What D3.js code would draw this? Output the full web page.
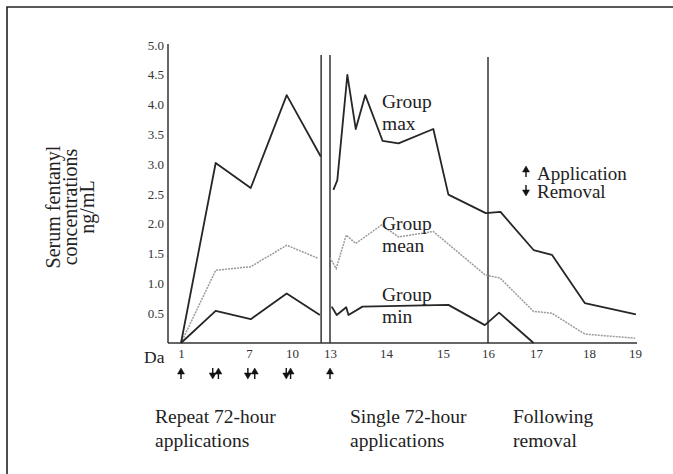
<!DOCTYPE html>
<html>
<head>
<meta charset="utf-8">
<title>Serum fentanyl concentrations</title>
<script src="https://cdn.jsdelivr.net/npm/d3@7"></script>
<style type="text/css">
body { margin: 0; background: #fff; }
svg { display: block; font-family: "Liberation Serif", "Times New Roman", serif; }
.line { fill: none; stroke: #262626; stroke-width: 1.8px; stroke-linejoin: round; }
.mean { fill: none; stroke: #9a9a9a; stroke-width: 1.5px; stroke-dasharray: 2,1; }
.rule { stroke: #333; stroke-width: 1.5px; }
.axis text { font-size: 13px; fill: #333; }
.big { font-size: 19.5px; fill: #222; }
</style>
</head>
<body>
<div id="chart"></div>
<script type="text/javascript">
// day ticks on the (uneven) time axis
var dayTicks = [1, 7, 10, 13, 14, 15, 16, 17, 18, 19];
var yTicks = [0.5, 1.0, 1.5, 2.0, 2.5, 3.0, 3.5, 4.0, 4.5, 5.0];

// series, null = break between repeat and single application
var maxDays   = [1, 4.06, 7.12, 9.63, 12.27, null, 13.06, 13.13, 13.31, 13.46, 13.63, 13.94, 14.22, 14.83, 15.12, 15.95, 16.26, 16.95, 17.3, 17.92, 19.02];
var maxValues = [0, 3.02, 2.6, 4.16, 3.13, null, 2.57, 2.73, 4.5, 3.59, 4.16, 3.39, 3.35, 3.59, 2.49, 2.18, 2.2, 1.56, 1.48, 0.67, 0.48];

var meanDays   = [1, 4.06, 7.12, 9.63, 12.08, null, 13.0, 13.11, 13.29, 13.46, 13.92, 14.22, 14.83, 15.94, 16.25, 16.95, 17.3, 17.92, 19.0];
var meanValues = [0, 1.22, 1.28, 1.64, 1.42, null, 1.43, 1.25, 1.81, 1.67, 1.98, 1.78, 1.87, 1.14, 1.09, 0.53, 0.5, 0.15, 0.08];

var minDays   = [1, 4.06, 7.12, 9.63, 12.2, null, 13.03, 13.12, 13.29, 13.33, 13.58, 15.12, 15.93, 16.23, 16.95];
var minValues = [0, 0.54, 0.4, 0.83, 0.47, null, 0.61, 0.47, 0.6, 0.47, 0.61, 0.64, 0.3, 0.51, 0];

var breakDays = [12.3, 13, 16];
var applicationDays = [1, 4.3, 7.4, 9.9, 13];
var removalDays = [3.8, 6.9, 9.6];

var phaseLabels = [["Repeat 72-hour", "applications"], ["Single 72-hour", "applications"], ["Following", "removal"]];
var yTitle = ["Serum fentanyl", "concentrations", "ng/mL"];

var width = 673, height = 474;
var svg = d3.select("#chart").append("svg").attr("width", width).attr("height", height);

// frame (left and top edges only)
svg.append("path").attr("d", "M7,474V7H673").attr("fill", "none").attr("stroke", "#222").attr("stroke-width", 1.6);

var x = d3.scaleLinear().domain(dayTicks).range([181, 249, 292, 330, 386, 443, 488, 536, 589, 635]);
var y = d3.scaleLinear().domain([0, 5]).range([343, 45]);
var x0 = 168, x1 = 637;

// y axis labels
var ya = svg.append("g").attr("class", "axis").attr("transform", "translate(" + x0 + ",0)")
  .call(d3.axisLeft(y).tickValues(yTicks).tickFormat(d3.format(".1f")).tickSize(0).tickPadding(4))
  .attr("font-family", null);
ya.select(".domain").remove();

// x axis labels
var xa = svg.append("g").attr("class", "axis").attr("transform", "translate(0," + y(0) + ")")
  .call(d3.axisBottom(x).tickValues(dayTicks).tickFormat(d3.format("d")).tickSize(0).tickPadding(6))
  .attr("font-family", null);
xa.select(".domain").remove();

svg.append("text").attr("x", 144).attr("y", 363).style("font-size", "17.5px").attr("fill", "#222").text("Da");

// axis lines
svg.append("line").attr("class", "rule").attr("x1", x0).attr("x2", x0).attr("y1", y(5) - 1).attr("y2", y(0)).attr("stroke-width", 1.8);
svg.append("line").attr("class", "rule").attr("x1", x0).attr("x2", x1).attr("y1", y(0)).attr("y2", y(0)).attr("stroke-width", 1.8);

// vertical phase separators
svg.selectAll(".sep").data(breakDays).enter().append("line")
  .attr("class", "rule")
  .attr("x1", function(d) { return x(d); }).attr("x2", function(d) { return x(d); })
  .attr("y1", function(d) { return d === 16 ? 57 : 55; }).attr("y2", y(0));

function series(days, values) {
  return days.map(function(d, i) { return {day: d, v: values[i]}; });
}
var line = d3.line()
  .defined(function(d) { return d.v !== null; })
  .x(function(d) { return x(d.day); })
  .y(function(d) { return y(d.v); });

svg.append("path").attr("class", "mean").attr("d", line(series(meanDays, meanValues)));
svg.append("path").attr("class", "line").attr("d", line(series(maxDays, maxValues)));
svg.append("path").attr("class", "line").attr("d", line(series(minDays, minValues)));

// series annotations
var notes = [
  {x: 382, y: 108, t: ["Group", "max"]},
  {x: 382, y: 230, t: ["Group", "mean"]},
  {x: 382, y: 301, t: ["Group", "min"]}
];
notes.forEach(function(n) {
  var t = svg.append("text").attr("class", "big").attr("x", n.x).attr("y", n.y);
  n.t.forEach(function(s, i) {
    t.append("tspan").attr("x", n.x).attr("dy", i ? 22 : 0).text(s);
  });
});

// arrows
function arrow(cx, top, up) {
  var g = svg.append("g").attr("fill", "#111").attr("stroke", "#111");
  if (up) {
    g.append("path").attr("d", "M" + (cx - 3.5) + "," + (top + 6) + "L" + cx + "," + top + "L" + (cx + 3.5) + "," + (top + 6) + "Z").attr("stroke-width", 0.5);
    g.append("line").attr("x1", cx).attr("x2", cx).attr("y1", top + 5).attr("y2", top + 11).attr("stroke-width", 1.4);
  } else {
    g.append("path").attr("d", "M" + (cx - 3.5) + "," + (top + 5) + "L" + cx + "," + (top + 11) + "L" + (cx + 3.5) + "," + (top + 5) + "Z").attr("stroke-width", 0.5);
    g.append("line").attr("x1", cx).attr("x2", cx).attr("y1", top).attr("y2", top + 6).attr("stroke-width", 1.4);
  }
}
applicationDays.forEach(function(d) { arrow(x(d), 368, true); });
removalDays.forEach(function(d) { arrow(x(d), 368, false); });

// legend
arrow(526, 166, true);
arrow(526, 185, false);
var lg = svg.append("text").attr("class", "big").style("font-size", "19px").attr("x", 537).attr("y", 179.5);
lg.append("tspan").attr("x", 537).text("Application");
lg.append("tspan").attr("x", 537).attr("dy", 18).text("Removal");

// phase labels
var phaseX = [155, 350, 513];
phaseLabels.forEach(function(p, i) {
  var t = svg.append("text").attr("class", "big").attr("x", phaseX[i]).attr("y", 423);
  p.forEach(function(s, j) {
    t.append("tspan").attr("x", phaseX[i]).attr("dy", j ? 24 : 0).text(s);
  });
});

// y title
var yt = svg.append("text").attr("class", "big").style("font-size", "20px")
  .attr("text-anchor", "middle").attr("transform", "translate(60,207) rotate(-90)");
yTitle.forEach(function(s, i) {
  yt.append("tspan").attr("x", 0).attr("dy", i ? 17 : 0).text(s);
});
</script>
</body>
</html>
